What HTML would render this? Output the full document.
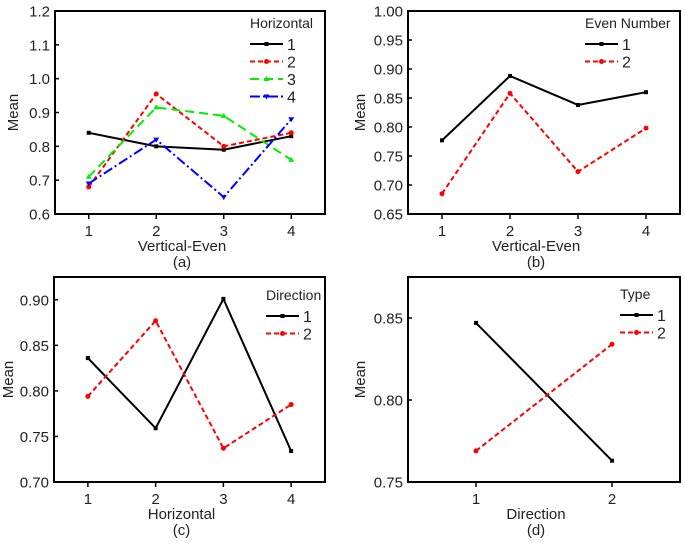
<!DOCTYPE html>
<html><head><meta charset="utf-8">
<style>
html,body{margin:0;padding:0;background:#fff;}
svg{display:block;font-family:"Liberation Sans",Arial,sans-serif;}
</style></head>
<body>
<svg id="fig" width="685" height="544" viewBox="0 0 685 544"></svg>
<script>
// ---- Panel (a) data ----
const aCategories = [1, 2, 3, 4];
const aH1 = [0.84, 0.80, 0.79, 0.83];
const aH2 = [0.68, 0.955, 0.80, 0.84];
const aH3 = [0.71, 0.915, 0.89, 0.76];
const aH4 = [0.69, 0.82, 0.65, 0.88];
const aYTicks = [0.6, 0.7, 0.8, 0.9, 1.0, 1.1, 1.2];
const aYLabels = ["0.6","0.7","0.8","0.9","1.0","1.1","1.2"];
// ---- Panel (b) data ----
const bCategories = [1, 2, 3, 4];
const bE1 = [0.777, 0.888, 0.838, 0.860];
const bE2 = [0.685, 0.858, 0.723, 0.798];
const bYTicks = [0.65, 0.70, 0.75, 0.80, 0.85, 0.90, 0.95, 1.00];
const bYLabels = ["0.65","0.70","0.75","0.80","0.85","0.90","0.95","1.00"];
// ---- Panel (c) data ----
const cCategories = [1, 2, 3, 4];
const cD1 = [0.836, 0.759, 0.901, 0.734];
const cD2 = [0.794, 0.877, 0.737, 0.785];
const cYTicks = [0.70, 0.75, 0.80, 0.85, 0.90];
const cYLabels = ["0.70","0.75","0.80","0.85","0.90"];
// ---- Panel (d) data ----
const dCategories = [1, 2];
const dT1 = [0.847, 0.763];
const dT2 = [0.769, 0.834];
const dYTicks = [0.75, 0.80, 0.85];
const dYLabels = ["0.75","0.80","0.85"];

const NS = "http://www.w3.org/2000/svg";
const svg = document.getElementById('fig');
function mk(tag, attrs, parent, text){
  const e = document.createElementNS(NS, tag);
  for (const k in attrs) e.setAttribute(k, attrs[k]);
  if (text !== undefined) e.textContent = text;
  (parent || svg).appendChild(e);
  return e;
}
const STY = {
  black:{color:"#000", dash:"", marker:"sq"},
  red:{color:"#ff0000", dash:"5,3", marker:"dot"},
  green:{color:"#00ee00", dash:"9,5", marker:"tri"},
  blue:{color:"#0000ff", dash:"10,3,2,3", marker:"vtri"}
};
function marker(g, x, y, type, color){
  let m;
  if (type === "sq") m = mk('rect',{x:x-2,y:y-2,width:4,height:4,fill:color},g);
  else if (type === "dot") m = mk('circle',{cx:x,cy:y,r:2.5,fill:color},g);
  else if (type === "tri") m = mk('polygon',{points:`${x},${y-3} ${x-3},${y+2} ${x+3},${y+2}`,fill:color},g);
  else m = mk('polygon',{points:`${x},${y+3} ${x-3},${y-2} ${x+3},${y-2}`,fill:color},g);
  
  
}
function panel(p){
  const g = mk('g',{},svg);
  
  
  const X = v => p.x0 + (v - p.xmin) / (p.xmax - p.xmin) * (p.x1 - p.x0);
  const Y = v => p.y1 - (v - p.ymin) / (p.ymax - p.ymin) * (p.y1 - p.y0);
  p.series.forEach(s => {
    const st = STY[s.style];
    const pts = s.values.map((v,i) => X(p.cats[i]) + "," + Y(v)).join(" ");
    const pl = mk('polyline',{points:pts,fill:"none",stroke:st.color,"stroke-width":2,"stroke-dasharray":st.dash},g);
    
    
    s.values.forEach((v,i) => marker(g, X(p.cats[i]), Y(v), st.marker, st.color));
  });
  const fr = mk('rect',{x:p.x0,y:p.y0,width:p.x1-p.x0,height:p.y1-p.y0,fill:"none",stroke:"#000","stroke-width":2},g);
  
  
  p.yticks.forEach((v,i) => {
    const y = Y(v);
    mk('line',{x1:p.x0,x2:p.x0+4,y1:y,y2:y,stroke:"#000","stroke-width":1.5},g);
    const t = mk('text',{x:p.x0-5,y:y+5.5,"text-anchor":"end","font-size":15,fill:"#222"},g,p.ylabels[i]);
    
    
  });
  p.cats.forEach(c => {
    const x = X(c);
    mk('line',{x1:x,x2:x,y1:p.y1,y2:p.y1+5,stroke:"#000","stroke-width":1.5},g);
    const t = mk('text',{x:x,y:p.y1+22,"text-anchor":"middle","font-size":15,fill:"#222"},g,String(c));
    
    
  });
  const xt = mk('text',{x:(p.x0+p.x1)/2 - 8,y:p.y1+37,"text-anchor":"middle","font-size":15,fill:"#222"},g,p.xtitle);
  
  
  const cap = mk('text',{x:(p.x0+p.x1)/2 - 8,y:p.y1+53,"text-anchor":"middle","font-size":15,fill:"#222"},g,p.caption);
  
  
  const yc = (p.y0+p.y1)/2;
  const yt = mk('text',{x:p.ytx,y:yc,"text-anchor":"middle","font-size":15,fill:"#222",transform:`rotate(-90 ${p.ytx} ${yc})`},g,"Mean");
  
  
  const lg = mk('g',{},g);
  
  
  mk('text',{x:p.lx,y:p.ly,"font-size":14,fill:"#222"},lg,p.ltitle);
  p.series.forEach((s,i) => {
    const st = STY[s.style];
    const y = p.ly + 16 + i*17.5;
    const e = mk('g',{},lg);
    
    
    mk('line',{x1:p.lx,x2:p.lx+33,y1:y,y2:y,stroke:st.color,"stroke-width":2,"stroke-dasharray":st.dash},e);
    marker(e, p.lx+16.5, y, st.marker, st.color);
    mk('text',{x:p.lx+37,y:y+6,"font-size":16,fill:"#222"},e,s.label);
  });
}
panel({name:"panel-a",x0:55,x1:325,y0:11,y1:214,xmin:0.5,xmax:4.5,ymin:0.6,ymax:1.2,
  cats:aCategories,yticks:aYTicks,ylabels:aYLabels,xtitle:"Vertical-Even",caption:"(a)",ytx:18,
  ltitle:"Horizontal",lx:250,ly:28,
  series:[{name:"h1",label:"1",values:aH1,style:"black"},{name:"h2",label:"2",values:aH2,style:"red"},
          {name:"h3",label:"3",values:aH3,style:"green"},{name:"h4",label:"4",values:aH4,style:"blue"}]});
panel({name:"panel-b",x0:408,x1:680,y0:11,y1:214,xmin:0.5,xmax:4.5,ymin:0.65,ymax:1.0,
  cats:bCategories,yticks:bYTicks,ylabels:bYLabels,xtitle:"Vertical-Even",caption:"(b)",ytx:365,
  ltitle:"Even Number",lx:585,ly:28,
  series:[{name:"e1",label:"1",values:bE1,style:"black"},{name:"e2",label:"2",values:bE2,style:"red"}]});
panel({name:"panel-c",x0:54,x1:325,y0:277,y1:482,xmin:0.5,xmax:4.5,ymin:0.70,ymax:0.925,
  cats:cCategories,yticks:cYTicks,ylabels:cYLabels,xtitle:"Horizontal",caption:"(c)",ytx:13,
  ltitle:"Direction",lx:266,ly:300,
  series:[{name:"d1",label:"1",values:cD1,style:"black"},{name:"d2",label:"2",values:cD2,style:"red"}]});
panel({name:"panel-d",x0:408,x1:680,y0:277,y1:482,xmin:0.5,xmax:2.5,ymin:0.75,ymax:0.875,
  cats:dCategories,yticks:dYTicks,ylabels:dYLabels,xtitle:"Direction",caption:"(d)",ytx:365,
  ltitle:"Type",lx:620,ly:299,
  series:[{name:"t1",label:"1",values:dT1,style:"black"},{name:"t2",label:"2",values:dT2,style:"red"}]});
</script>
</body></html>
